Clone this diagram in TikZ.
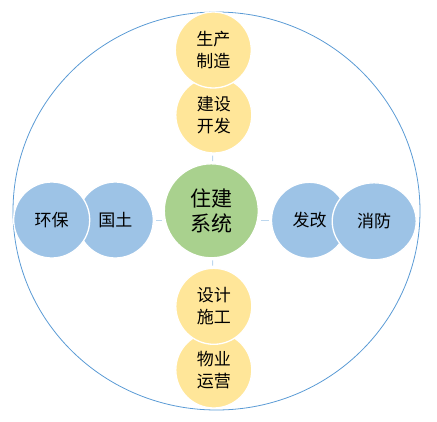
\documentclass[tikz,border=0pt]{standalone}
\usepackage{fontspec}
\setmainfont{Noto Sans CJK SC}
\usetikzlibrary{shapes.geometric}

\definecolor{ringblue}{HTML}{5B9BD5}
\definecolor{bubyellow}{HTML}{FFE699}
\definecolor{bubblue}{HTML}{9DC3E6}
\definecolor{bubgreen}{HTML}{A9D18E}
\definecolor{linkblue}{HTML}{BDD7EE}

\begin{document}
\begin{tikzpicture}[
      x = 1pt, y = -1pt,
      bubble/.style = {
        circle, draw = white, line width = 1.3pt,
        minimum size = 76pt, inner sep = 0pt, align = center,
        font = \fontsize{17}{22}\selectfont
      },
      yellowb/.style = { bubble, fill = bubyellow },
      blueb/.style = { bubble, fill = bubblue },
      hub/.style = {
        bubble, fill = bubgreen, minimum size = 94pt,
        font = \fontsize{21}{24.5}\selectfont
      },
      link/.style = { draw = linkblue, line width = 1pt, shorten < = 2pt, shorten > = 2pt },
    ]

    \useasboundingbox (0,0) rectangle (437,421);
    \draw[ringblue, line width = 0.8pt] (216.5,211) ellipse [x radius = 203.5pt, y radius = 199pt];

    % centre
    \node[hub] (ZJ) at (211.3,210.8) {住建\\系统};

    % top
    \node[yellowb] (JS) at (213.8,115) {建设\\开发};
    \node[yellowb] (SC) at (213.3,50) {生产\\制造};

    % bottom
    \node[yellowb] (WY) at (213.8,370) {物业\\运营};
    \node[yellowb] (SJ) at (213.8,306.3) {设计\\施工};

    % left
    \node[blueb] (GT) at (115.3,220) {国土};
    \node[blueb] (HB) at (51.7,220) {环保};

    % right
    \node[blueb] (FG) at (309.5,220.3) {发改};
    \node[blueb, ellipse, minimum width = 84pt, minimum height = 77pt] (XF) at (374.2,221.3) {消防};

    \draw[link] (ZJ) -- (JS);
    \draw[link] (ZJ) -- (SJ);
    \draw[link] (ZJ.west |- GT) -- (GT);
    \draw[link] (ZJ.east |- FG) -- (FG);
  \end{tikzpicture}
\end{document}
